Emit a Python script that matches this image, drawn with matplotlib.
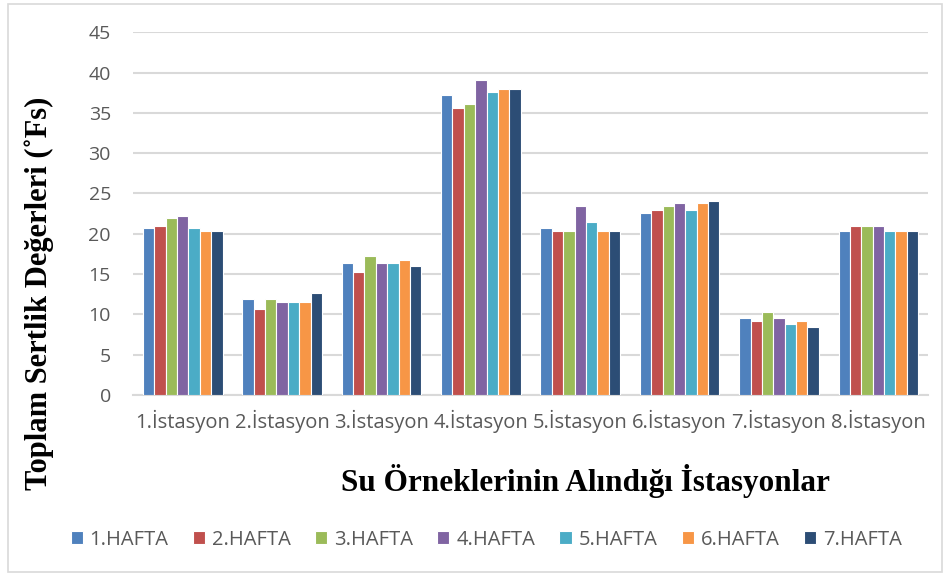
import numpy as np
import matplotlib.pyplot as plt
from matplotlib.patches import Rectangle

# Stations and weekly hardness values (°Fs)
stations = ["1.İstasyon", "2.İstasyon", "3.İstasyon", "4.İstasyon",
            "5.İstasyon", "6.İstasyon", "7.İstasyon", "8.İstasyon"]
weeks = ["1.HAFTA", "2.HAFTA", "3.HAFTA", "4.HAFTA", "5.HAFTA", "6.HAFTA", "7.HAFTA"]

hafta1 = [20.7, 11.9, 16.4, 37.2, 20.7, 22.6, 9.6, 20.3]
hafta2 = [21.0, 10.7, 15.3, 35.6, 20.3, 23.0, 9.2, 21.0]
hafta3 = [21.9, 11.9, 17.2, 36.1, 20.3, 23.4, 10.3, 21.0]
hafta4 = [22.2, 11.5, 16.4, 39.1, 23.4, 23.8, 9.6, 21.0]
hafta5 = [20.7, 11.5, 16.4, 37.6, 21.4, 23.0, 8.8, 20.3]
hafta6 = [20.3, 11.5, 16.8, 37.9, 20.3, 23.8, 9.2, 20.3]
hafta7 = [20.3, 12.6, 16.0, 37.9, 20.3, 24.1, 8.4, 20.3]

series = [hafta1, hafta2, hafta3, hafta4, hafta5, hafta6, hafta7]
colors = ['#4F81BD', '#C0504D', '#9BBB59', '#8064A2', '#4BACC6', '#F79646', '#2C4D75']

fig = plt.figure(figsize=(9.44, 5.75), dpi=100)
ax = fig.add_axes([0.141, 0.313, 0.842, 0.631])

x = np.arange(len(stations))
n = len(series)
w = 0.8 / n
for i, (vals, c) in enumerate(zip(series, colors)):
    ax.bar(x - 0.4 + w * (i + 0.5), vals, w, color=c, edgecolor='white',
           linewidth=0.8, label=weeks[i], zorder=3)

ax.set_xlim(-0.5, len(stations) - 0.5)
ax.set_ylim(0, 45)
ax.set_yticks(np.arange(0, 46, 5))
ax.yaxis.grid(True, color='#D9D9D9', linewidth=1.5, zorder=0)
ax.tick_params(axis='both', length=0, colors='#595959')
ax.tick_params(axis='y', pad=16, labelsize=14)
ax.tick_params(axis='x', pad=11, labelsize=14.5)
ax.set_xticks(x)
ax.set_xticklabels(stations)
for lbl in ax.get_yticklabels() + ax.get_xticklabels():
    lbl.set_fontfamily('Open Sans')
    lbl.set_color('#595959')
for s in ['top', 'right', 'left']:
    ax.spines[s].set_visible(False)
ax.spines['bottom'].set_color('#D9D9D9')
ax.spines['bottom'].set_linewidth(1.5)

fig.text(0.042, 0.49, "Toplam Sertlik Değerleri (˚Fs)", rotation=90,
         ha='center', va='center', fontfamily='Liberation Serif',
         fontweight='bold', fontsize=22)
fig.text(0.62, 0.163, "Su Örneklerinin Alındığı İstasyonlar",
         ha='center', va='center', fontfamily='Liberation Serif',
         fontweight='bold', fontsize=22.5)

leg = fig.legend(loc='center', bbox_to_anchor=(0.515, 0.061), ncol=7,
                 frameon=False, handlelength=0.6, handleheight=0.6,
                 handletextpad=0.35, columnspacing=1.2,
                 prop={'family': 'Open Sans', 'size': 14.5})
for t in leg.get_texts():
    t.set_color('#595959')

fig.patches.append(Rectangle((0.008, 0.006), 0.99, 0.987, transform=fig.transFigure,
                             fill=False, edgecolor='#D9D9D9', linewidth=1.2))

fig.savefig('out.png', dpi=100)
